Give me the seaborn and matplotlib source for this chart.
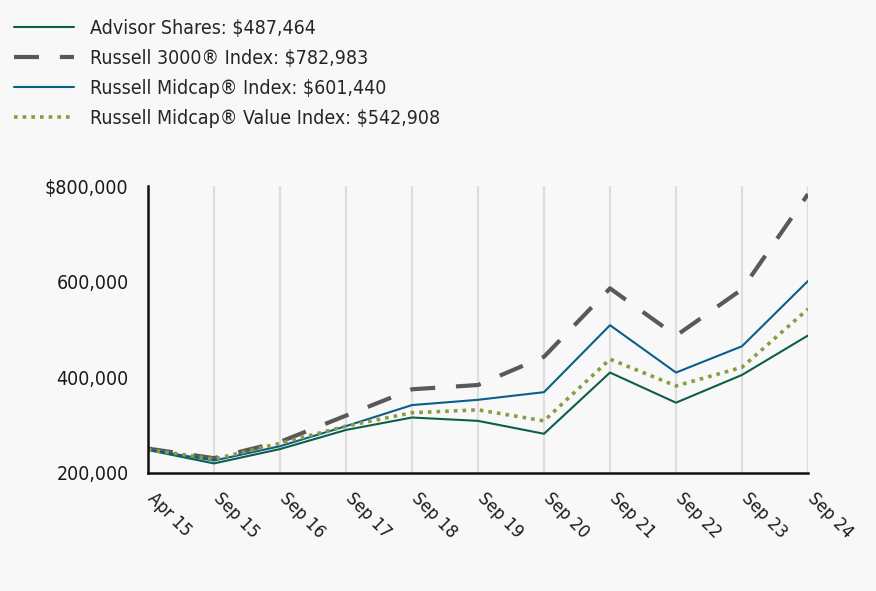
import matplotlib
matplotlib.use("Agg")
import matplotlib.pyplot as plt
import matplotlib.transforms as mtransforms
import seaborn as sns
import pandas as pd

categories = ["Apr 15", "Sep 15", "Sep 16", "Sep 17", "Sep 18", "Sep 19",
              "Sep 20", "Sep 21", "Sep 22", "Sep 23", "Sep 24"]
advisor = [248000, 220000, 250000, 290000, 316000, 309000, 282000, 410000, 347000, 405000, 487464]
russell3000 = [251000, 231000, 265000, 320000, 375000, 384000, 443000, 586000, 487000, 584000, 782983]
midcap = [249000, 226000, 256000, 298000, 342000, 353000, 369000, 509000, 410000, 465000, 601440]
midcap_value = [249000, 229000, 262000, 298000, 326000, 332000, 309000, 438000, 382000, 421000, 542908]
labels = ["Advisor Shares: $487,464", "Russell 3000\u00ae Index: $782,983",
          "Russell Midcap\u00ae Index: $601,440", "Russell Midcap\u00ae Value Index: $542,908"]
yticks = [200000, 400000, 600000, 800000]
ytick_labels = ["200,000", "400,000", "600,000", "$800,000"]

sns.set_theme(style="white")
plt.rcParams["font.family"] = ["DejaVu Sans"]
plt.rcParams["font.stretch"] = "condensed"

bg = "#f8f8f8"
fig = plt.figure(figsize=(8.76, 5.91), dpi=100, facecolor=bg)
ax = fig.add_axes([148/876, 1-473/591, (808-148)/876, (473-186)/591])
ax.set_facecolor(bg)

x = list(range(len(categories)))
styles = [
    (advisor, "#0d5e4c", 1.5, None),
    (russell3000, "#595959", 3.0, (6, 5)),
    (midcap, "#0a5f8a", 1.5, None),
    (midcap_value, "#8c9b3e", 2.6, (1, 1.4)),
]
handles = []
for (vals, col, lw, dash), lab in zip(styles, labels):
    df = pd.DataFrame({"x": x, "y": vals})
    sns.lineplot(data=df, x="x", y="y", ax=ax, color=col, linewidth=lw, label=lab)
    line = ax.lines[-1]
    if dash is not None:
        line.set_dashes(dash)
    handles.append(line)

for xi in x:
    ax.axvline(xi, color="#dedede", linewidth=1.6, zorder=0)

ax.set_xlim(0, 10)
ax.set_ylim(200000, 800000)
ax.set_yticks(yticks)
ax.set_yticklabels(ytick_labels, fontsize=14, color="#1a1a1a")
ax.set_xticks(x)
ax.set_xticklabels(categories, rotation=-45, ha="left", va="top",
                   rotation_mode="anchor", fontsize=13, color="#1a1a1a")
ax.tick_params(axis="x", length=0, pad=12)
ax.tick_params(axis="y", length=0, pad=14)
off = mtransforms.ScaledTranslation(9/100, 0, fig.dpi_scale_trans)
for t in ax.get_xticklabels():
    t.set_transform(t.get_transform() + off)
ax.set_xlabel("")
ax.set_ylabel("")
for s in ["top", "right"]:
    ax.spines[s].set_visible(False)
for s in ["left", "bottom"]:
    ax.spines[s].set_color("#111111")
    ax.spines[s].set_linewidth(1.8)

ax.get_legend().remove()
fig.legend(handles=handles, labels=labels, loc="upper left",
           bbox_to_anchor=(-0.004, 0.997), frameon=False, fontsize=14,
           handlelength=3.1, handletextpad=0.8, labelspacing=0.56)

fig.savefig("out.png", dpi=100, facecolor=bg)
